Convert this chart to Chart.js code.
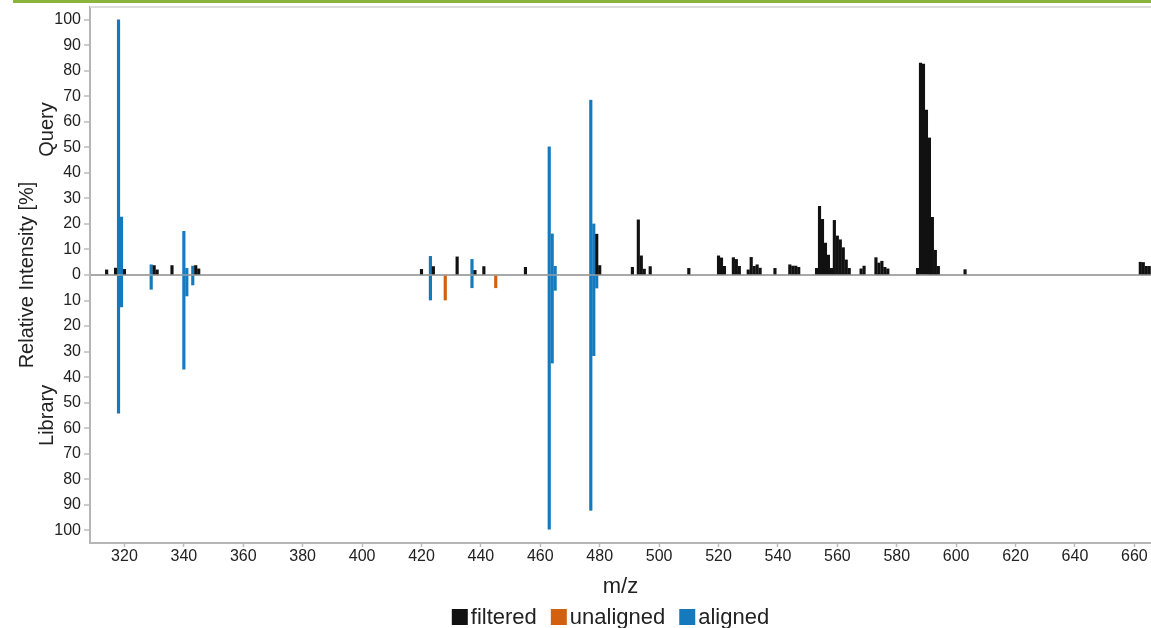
<!DOCTYPE html>
<html>
<head>
<meta charset="utf-8">
<script src="https://cdn.jsdelivr.net/npm/chart.js@4.4.1/dist/chart.umd.min.js"></script>
<style>
  html, body { margin: 0; padding: 0; background: #fff; }
  #wrap { position: relative; width: 1151px; height: 628px; }
  #topline { position: absolute; left: 13px; top: 0; width: 1138px; height: 3px; background: #8ab43e; }
</style>
</head>
<body>
<div id="wrap">
  <canvas id="spectre" width="1151" height="628"></canvas>
  <div id="topline"></div>
</div>
<script>
// query peaks that were filtered out (black)
const filteredMz = [314, 317, 320, 330, 331, 336, 344, 345, 420, 424, 432, 438, 441, 455, 479, 480,
  491, 493, 494, 495, 497, 510, 520, 521, 522, 525, 526, 527, 530, 531, 532, 533, 534, 539,
  544, 545, 546, 547, 553, 554, 555, 556, 557, 558, 559, 560, 561, 562, 563, 564, 568, 569,
  573, 574, 575, 576, 577, 587, 588, 589, 590, 591, 592, 593, 594, 603, 662, 663, 664, 665];
const filteredInt = [2.0, 2.7, 2.2, 3.7, 2.0, 3.7, 3.7, 2.4, 2.2, 3.3, 7.1, 1.8, 3.3, 3.0, 16.0, 3.7,
  3.0, 21.6, 7.5, 2.3, 3.3, 2.6, 7.5, 6.7, 3.4, 6.8, 6.1, 3.4, 2.0, 6.9, 3.4, 4.0, 2.7, 2.6,
  4.0, 3.5, 3.5, 3.0, 2.6, 26.9, 21.8, 12.5, 7.8, 2.6, 21.4, 15.3, 13.8, 10.7, 5.9, 2.6, 2.4, 3.5,
  6.8, 4.7, 5.4, 3.0, 2.4, 2.6, 83.0, 82.6, 64.6, 53.7, 22.6, 9.7, 3.4, 2.1, 5.0, 4.9, 3.4, 3.4];

// aligned peaks: query side (up) and library side (down)
const alignedMz = [318, 319, 329, 340, 341, 343, 423, 437, 463, 464, 465, 477, 478, 479];
const alignedQuery = [100, 22.7, 4.0, 17.1, 2.6, 3.5, 7.3, 6.1, 50.2, 16.1, 3.4, 68.5, 20.0, 0];
const alignedLibrary = [54.1, 12.5, 5.6, 36.9, 8.2, 3.9, 9.8, 5.0, 99.6, 34.5, 6.0, 92.2, 31.6, 5.1];

// library peaks without a match (orange)
const unalignedMz = [428, 445];
const unalignedLibrary = [9.8, 5.0];

const xTicks = [320, 340, 360, 380, 400, 420, 440, 460, 480, 500, 520, 540, 560, 580, 600, 620, 640, 660];
const yTicks = [-100, -90, -80, -70, -60, -50, -40, -30, -20, -10, 0, 10, 20, 30, 40, 50, 60, 70, 80, 90, 100];

const police = '"Liberation Sans", Arial, sans-serif';
const texte = '#222222';

function points(mz, vals, sign) {
    const out = [];
    mz.forEach((m, i) => {
        if (vals[i] > 0) out.push({ x: m, y: sign * vals[i] });
    });
    return out;
}

const titresCote = {
    id: "titresCote",
    afterDraw(chart) {
        const { ctx, chartArea } = chart;
        const y = chart.scales.y;
        ctx.save();
        // light frame line on top of the plot
        ctx.strokeStyle = "#dddddd";
        ctx.lineWidth = 2;
        ctx.beginPath();
        ctx.moveTo(chartArea.left, chartArea.top);
        ctx.lineTo(chartArea.right, chartArea.top);
        ctx.stroke();

        ctx.fillStyle = texte;
        ctx.font = "20px " + police;
        ctx.textAlign = "center";
        ctx.textBaseline = "middle";
        const vertical = (txt, x, yc) => {
            ctx.save();
            ctx.translate(x, yc);
            ctx.rotate(-Math.PI / 2);
            ctx.fillText(txt, 0, 0);
            ctx.restore();
        };
        vertical("Relative Intensity [%]", 27, y.getPixelForValue(0));
        vertical("Query", 47, y.getPixelForValue(57));
        vertical("Library", 47, y.getPixelForValue(-55));

        // legend under the axis title
        ctx.font = "22px " + police;
        ctx.textAlign = "left";
        const ds = chart.data.datasets;
        const gap = 3, espace = 14;
        let total = 0;
        ds.forEach((d) => { total += 16 + gap + ctx.measureText(d.label).width; });
        total += espace * (ds.length - 1);
        let x = (chartArea.left + chartArea.right) / 2 - total / 2 - 10;
        const yc = 617;
        ds.forEach((d) => {
            ctx.fillStyle = d.backgroundColor;
            ctx.fillRect(x, yc - 8, 16, 16);
            x += 16 + gap;
            ctx.fillStyle = texte;
            ctx.fillText(d.label, x, yc + 1);
            x += ctx.measureText(d.label).width + espace;
        });
        ctx.restore();
    },
};

new Chart(document.querySelector("#spectre"), {
    type: "bar",
    data: {
        datasets: [
            {
                label: "filtered",
                data: points(filteredMz, filteredInt, 1),
                backgroundColor: "#111111",
            },
            {
                label: "unaligned",
                data: points(unalignedMz, unalignedLibrary, -1),
                backgroundColor: "#d2600f",
            },
            {
                label: "aligned",
                data: points(alignedMz, alignedQuery, 1).concat(points(alignedMz, alignedLibrary, -1)),
                backgroundColor: "#1479bd",
            },
        ],
    },
    options: {
        responsive: false,
        animation: false,
        layout: { padding: { left: 0, right: 0, top: 7, bottom: 28 } },
        datasets: {
            bar: { barThickness: 2.5, grouped: false, borderWidth: 0 },
        },
        plugins: {
            legend: { display: false },
            tooltip: { enabled: false },
        },
        scales: {
            x: {
                type: "linear",
                offset: false,
                min: 308.4,
                max: 665.6,
                afterBuildTicks: (s) => { s.ticks = xTicks.map((v) => ({ value: v })); },
                afterFit: (s) => { s.height = 57; s.paddingLeft = 0; s.paddingRight = 0; },
                ticks: { color: texte, font: { family: police, size: 16 }, padding: 0, maxRotation: 0 },
                grid: { offset: false, color: "rgba(0,0,0,0)", tickColor: "#bbbbbb", tickLength: 4, tickWidth: 1.5 },
                border: { color: "#b5b5b5", width: 2 },
                title: { display: true, text: "m/z", color: texte, font: { family: police, size: 22 }, padding: { top: 0, bottom: 0 } },
            },
            y: {
                min: -105,
                max: 105,
                afterBuildTicks: (s) => { s.ticks = yTicks.map((v) => ({ value: v })); },
                afterFit: (s) => { s.width = 90; s.paddingTop = 0; s.paddingBottom = 0; },
                ticks: {
                    color: texte,
                    font: { family: police, size: 16 },
                    padding: 3,
                    callback: (v) => Math.abs(v),
                },
                grid: {
                    color: (c) => (c.tick && c.tick.value === 0 ? "#a8a8a8" : "rgba(0,0,0,0)"),
                    lineWidth: 2,
                    tickColor: "#bbbbbb",
                    tickLength: 6,
                    tickWidth: 1.5,
                },
                border: { color: "#b5b5b5", width: 2 },
            },
        },
    },
    plugins: [titresCote],
});
</script>
</body>
</html>
